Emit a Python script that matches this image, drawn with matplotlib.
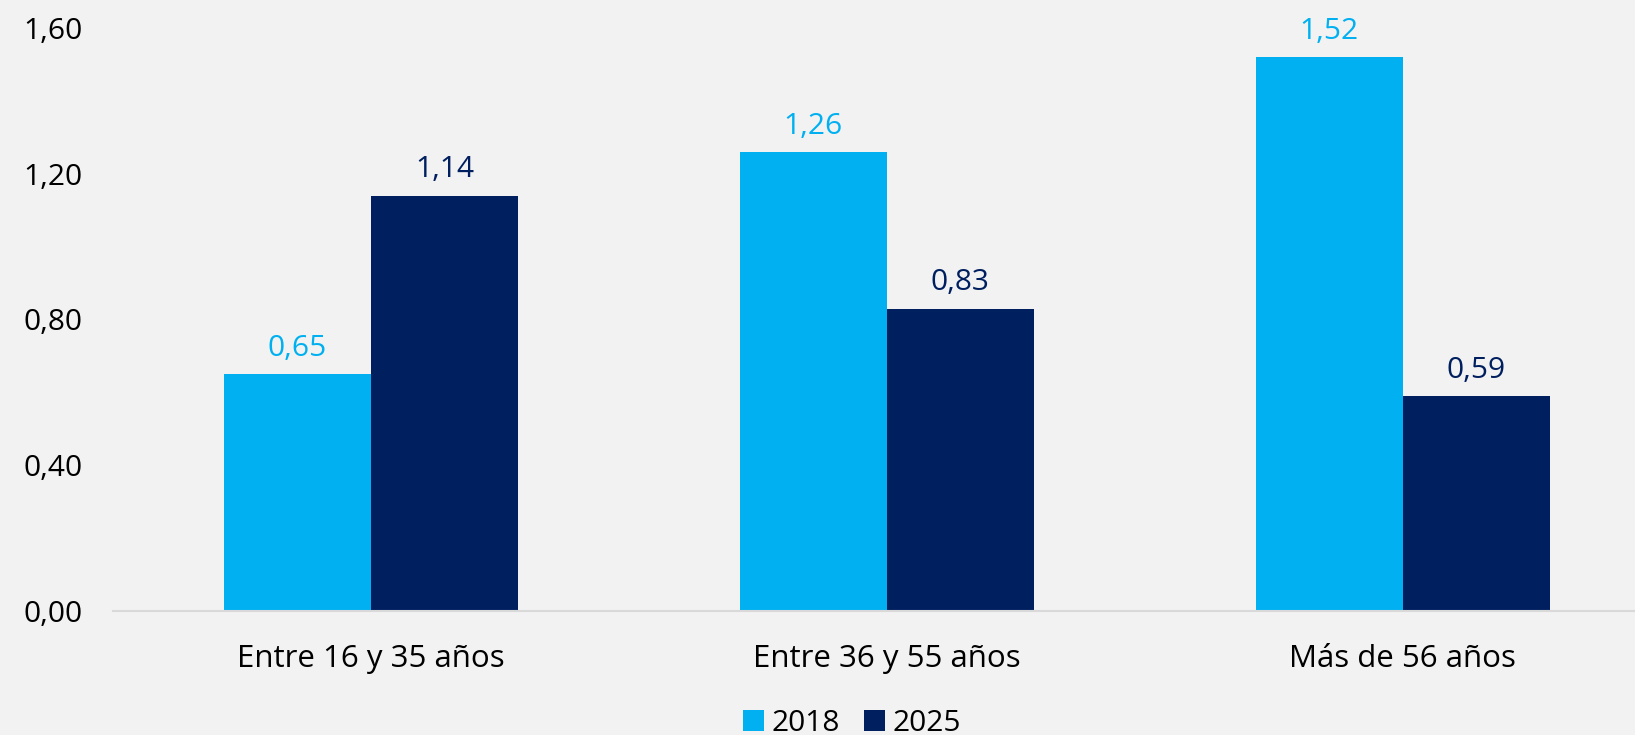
import matplotlib
matplotlib.use('Agg')
import matplotlib.pyplot as plt
import numpy as np

plt.rcParams['font.family'] = ['Open Sans', 'DejaVu Sans']

categorias = ['Entre 16 y 35 años', 'Entre 36 y 55 años', 'Más de 56 años']
series = ['2018', '2025']
valores_2018 = [0.65, 1.26, 1.52]
valores_2025 = [1.14, 0.83, 0.59]
ticks_y = [0.0, 0.4, 0.8, 1.2, 1.6]

COLOR_2018 = '#00b0f0'
COLOR_2025 = '#001f5f'
FONDO = '#f2f2f2'


def coma(v):
    return f'{v:.2f}'.replace('.', ',')


fig = plt.figure(figsize=(16.35, 7.35), dpi=100, facecolor=FONDO)
ax = fig.add_axes([0.0691, 0.1687, 0.9309, 0.7933])
ax.set_facecolor(FONDO)

x = np.arange(len(categorias))
ancho = 0.285
b1 = ax.bar(x - ancho / 2, valores_2018, ancho, color=COLOR_2018, label=series[0])
b2 = ax.bar(x + ancho / 2, valores_2025, ancho, color=COLOR_2025, label=series[1])

for barras, col in ((b1, COLOR_2018), (b2, COLOR_2025)):
    for b in barras:
        ax.annotate(coma(b.get_height()),
                    (b.get_x() + b.get_width() / 2, b.get_height()),
                    xytext=(0, 8), textcoords='offset points',
                    ha='center', va='bottom', fontsize=21.5, color=col)

ax.set_xlim(-0.5, 2.45)
ax.set_ylim(0, 1.6)
ax.set_yticks(ticks_y)
ax.set_yticklabels([coma(t) for t in ticks_y], fontsize=21.5)
ax.set_xticks(x)
ax.set_xticklabels(categorias, fontsize=22.5)
ax.tick_params(axis='both', length=0, colors='#000000')
ax.tick_params(axis='y', pad=22)
ax.tick_params(axis='x', pad=24)

for lado in ('top', 'right', 'left'):
    ax.spines[lado].set_visible(False)
ax.spines['bottom'].set_color('#d9d9d9')
ax.spines['bottom'].set_linewidth(1.5)

# la leyenda queda cortada por abajo, igual que en el original
fig.legend(loc='center', bbox_to_anchor=(0.521, 0.016), ncol=2, frameon=False,
           fontsize=21.5, handlelength=0.7, handleheight=0.7, handletextpad=0.25,
           columnspacing=0.8)

fig.savefig('out.png', dpi=100, facecolor=FONDO)
